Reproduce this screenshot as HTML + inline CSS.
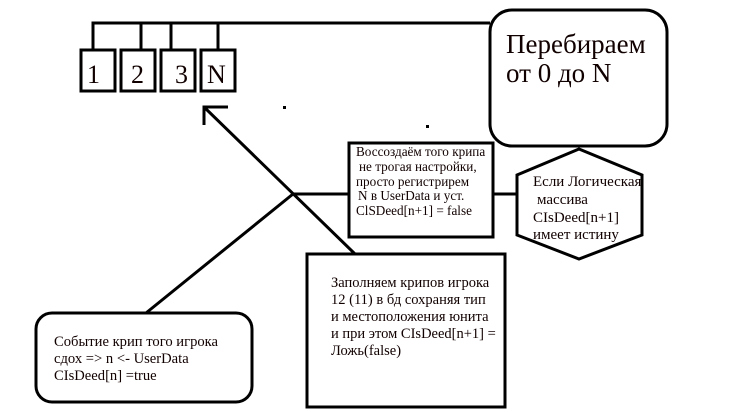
<!DOCTYPE html>
<html><head><meta charset="utf-8"><style>
body{margin:0;background:#fff;width:741px;height:412px;overflow:hidden}
svg{display:block}
text{font-family:"Liberation Serif","Noto Serif CJK SC",serif;fill:#100}
</style></head><body>
<svg width="741" height="412" viewBox="0 0 741 412">
<g fill="none" stroke="#000" stroke-width="3">
<polyline points="93,50 93,23 490,23"/>
<line x1="141" y1="23" x2="141" y2="50"/>
<line x1="171" y1="23" x2="171" y2="50"/>
<line x1="218" y1="23" x2="218" y2="50"/>
<rect x="81" y="50" width="34" height="41"/>
<rect x="121" y="50" width="34" height="41"/>
<rect x="161" y="50" width="34" height="41"/>
<rect x="201" y="50" width="34" height="41"/>
<rect x="490" y="10" width="177" height="136" rx="22"/>
<polyline points="228,107 204,107 204,125"/>
<line x1="204" y1="107" x2="355" y2="254"/>
<line x1="293" y1="194" x2="349" y2="194"/>
<line x1="293" y1="194" x2="146" y2="313"/>
<rect x="349" y="143" width="144" height="94"/>
<line x1="493" y1="194" x2="517" y2="194"/>
<polygon points="579,149 642,175 642,235 579,259 517,235 517,175"/>
<rect x="307" y="254" width="198" height="153"/>
<rect x="36" y="313" width="216" height="89" rx="16"/>
</g>
<rect x="283" y="106" width="3" height="3" fill="#000"/>
<rect x="426" y="125" width="3" height="3" fill="#000"/>
<g font-size="26">
<text x="87" y="83">1</text><text x="131" y="83">2</text><text x="175" y="83">3</text><text x="207" y="83">N</text>
</g>
<text x="506" y="53" font-size="27">Перебираем</text>
<text x="506" y="82" font-size="27">от 0 до N</text>
<g font-size="13.2">
<text x="356" y="156">Воссоздаём того крипа</text>
<text x="359" y="171">не трогая настройки,</text>
<text x="356" y="186">просто регистрирем</text>
<text x="358" y="200">N в  UserData и уст.</text>
<text x="356" y="215">ClSDeed[n+1] = false</text>
</g>
<g font-size="15">
<text x="533" y="186">Если Логическая</text>
<text x="537" y="204">массива</text>
<text x="533" y="222">CIsDeed[n+1]</text>
<text x="533" y="239">имеет истину</text>
</g>
<g font-size="14.5">
<text x="331" y="287">Заполняем крипов игрока</text>
<text x="331" y="304">12 (11) в бд сохраняя тип</text>
<text x="331" y="321">и местоположения юнита</text>
<text x="331" y="338">и при этом CIsDeed[n+1] =</text>
<text x="331" y="355">Ложь(false)</text>
</g>
<g font-size="14.6">
<text x="54" y="346">Событие крип того игрока</text>
<text x="54" y="363">сдох =&gt; n &lt;- UserData</text>
<text x="54" y="380">CIsDeed[n] =true</text>
</g>
</svg>
</body></html>
